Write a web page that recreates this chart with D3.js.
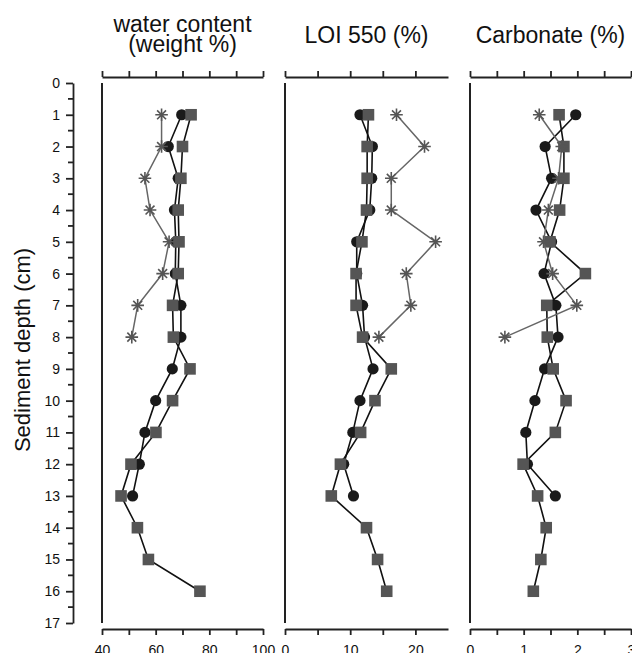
<!DOCTYPE html>
<html><head><meta charset="utf-8">
<script src="https://cdn.jsdelivr.net/npm/d3@7"></script>
<style>body{margin:0;background:#fff}svg{display:block}text{font-family:"Liberation Sans",Arial,sans-serif;fill:#111}</style>
</head><body><svg id="c" width="632" height="653"></svg>
<script>
// Sediment depths (cm)
const depths = [1,2,3,4,5,6,7,8,9,10,11,12,13,14,15,16];
const yTicks = [0,1,2,3,4,5,6,7,8,9,10,11,12,13,14,15,16,17];
const yMinorTicks = [0.5,1.5,2.5,3.5,4.5,5.5,6.5,7.5,8.5,9.5,10.5,11.5,12.5,13.5,14.5,15.5,16.5];

// Panel titles
const titles = [["water content","(weight %)"],["LOI 550 (%)"],["Carbonate (%)"]];

// Water content (weight %) – core A circles, core B squares, core C asterisks
const waterA = [69.7,64.7,68.4,67.0,67.5,67.3,69.4,69.4,66.2,60.0,56.0,53.9,51.4];
const waterB = [73.2,70.0,69.4,68.4,68.7,68.4,66.3,66.6,72.8,66.3,60.1,50.8,47.1,53.2,57.3,76.5];
const waterC = [62.2,62.2,56.0,57.9,65.0,62.6,53.3,51.1];

// LOI 550 (%)
const loiA = [11.5,13.4,13.3,13.0,11.0,11.0,11.9,12.2,13.5,11.5,10.4,9.0,10.5];
const loiB = [12.8,12.6,12.6,12.5,11.8,10.9,10.9,11.9,16.3,13.8,11.6,8.5,7.1,12.5,14.2,15.6];
const loiC = [17.1,21.4,16.3,16.3,23.1,18.6,19.3,14.4];

// Carbonate (%)
const carbA = [1.97,1.40,1.52,1.23,1.52,1.38,1.60,1.64,1.39,1.21,1.04,1.07,1.59];
const carbB = [1.66,1.75,1.75,1.67,1.49,2.15,1.43,1.44,1.55,1.79,1.59,0.99,1.26,1.42,1.32,1.18];
const carbC = [1.29,1.71,1.65,1.46,1.37,1.54,1.99,0.65];

// x-axis ticks
const waterTicks = [40,50,60,70,80,90,100], waterLabels = [40,60,80,100];
const loiTicks = [0,5,10,15,20], loiLabels = [0,10,20];
const carbTicks = [0,0.5,1,1.5,2,2.5,3], carbLabels = [0,1,2,3];

const panels = [
  {domain:[40,100], range:[102,263], ticks:waterTicks, labels:waterLabels, A:waterA, B:waterB, C:waterC},
  {domain:[0,25], range:[285,448], ticks:loiTicks, labels:loiLabels, A:loiA, B:loiB, C:loiC},
  {domain:[0,3], range:[470,631], ticks:carbTicks, labels:carbLabels, A:carbA, B:carbB, C:carbC}
];

const svg = d3.select("#c");
svg.append("rect").attr("width",632).attr("height",653).attr("fill","#fff");

const y = d3.scaleLinear().domain([0,17]).range([83,623]);
const axisColor = "#222";

// Y axis
const yAx = svg.append("g").attr("transform","translate(73,0)")
  .call(d3.axisLeft(y).tickValues(yTicks).tickSize(7).tickPadding(6).tickSizeOuter(0).tickFormat(d3.format("d")));
yAx.selectAll("text").style("font-size","14px");
yAx.selectAll("line, path").attr("stroke",axisColor).attr("stroke-width",1.8);
svg.append("g").attr("transform","translate(73,0)")
  .selectAll("line").data(yMinorTicks).join("line")
  .attr("x1",-5).attr("x2",0).attr("y1",d=>y(d)).attr("y2",d=>y(d))
  .attr("stroke",axisColor).attr("stroke-width",1.8);

svg.append("text").attr("transform","translate(30,350) rotate(-90)")
  .attr("text-anchor","middle").style("font-size","22px").text("Sediment depth (cm)");

function starPath(cx, cy, r){
  const p = d3.path();
  for (let k=0;k<4;k++){
    const a = k*Math.PI/4;
    p.moveTo(cx+r*Math.cos(a), cy+r*Math.sin(a));
    p.lineTo(cx-r*Math.cos(a), cy-r*Math.sin(a));
  }
  return p.toString();
}

panels.forEach((P, i) => {
  const x = d3.scaleLinear().domain(P.domain).range(P.range);
  const g = svg.append("g");

  // title
  const cx = (P.range[0]+P.range[1])/2;
  const tl = titles[i];
  if (tl.length === 2){
    g.append("text").attr("x",cx).attr("y",32).attr("text-anchor","middle").style("font-size","23px").text(tl[0]);
    g.append("text").attr("x",cx).attr("y",52).attr("text-anchor","middle").style("font-size","23px").text(tl[1]);
  } else {
    g.append("text").attr("x",cx).attr("y",43).attr("text-anchor","middle").style("font-size","23px").text(tl[0]);
  }

  // top axis
  const top = g.append("g").attr("transform","translate(0,77)")
    .call(d3.axisTop(x).tickValues(P.ticks).tickSize(6).tickSizeOuter(0).tickFormat(""));
  top.selectAll("line, path").attr("stroke",axisColor).attr("stroke-width",1.8);

  // bottom axis
  const bot = g.append("g").attr("transform","translate(0,629)")
    .call(d3.axisBottom(x).tickValues(P.ticks).tickSize(6).tickPadding(10).tickSizeOuter(0)
      .tickFormat(d => P.labels.includes(d) ? d3.format("d")(d) : ""));
  bot.selectAll("line, path").attr("stroke",axisColor).attr("stroke-width",1.8);
  bot.selectAll("text").style("font-size","14px");

  // panel left vertical line
  g.append("line").attr("x1",P.range[0]).attr("x2",P.range[0]).attr("y1",y(0)).attr("y2",y(17))
    .attr("stroke",axisColor).attr("stroke-width",2);

  const line = d3.line().x(d=>x(d[1])).y(d=>y(d[0]));
  const dataA = P.A.map((v,j)=>[depths[j],v]);
  const dataB = P.B.map((v,j)=>[depths[j],v]);
  const dataC = P.C.map((v,j)=>[depths[j],v]);

  // series A: circles
  g.append("path").attr("d",line(dataA)).attr("fill","none").attr("stroke","#111").attr("stroke-width",1.6);
  g.selectAll(".ca").data(dataA).join("circle").attr("cx",d=>x(d[1])).attr("cy",d=>y(d[0])).attr("r",5.6).attr("fill","#1a1a1a");

  // series B: squares
  g.append("path").attr("d",line(dataB)).attr("fill","none").attr("stroke","#111").attr("stroke-width",1.6);
  g.selectAll(".sb").data(dataB).join("rect").attr("x",d=>x(d[1])-5.8).attr("y",d=>y(d[0])-5.8)
    .attr("width",11.6).attr("height",11.6).attr("fill","#555");

  // series C: asterisks
  g.append("path").attr("d",line(dataC)).attr("fill","none").attr("stroke","#666").attr("stroke-width",1.5);
  g.selectAll(".sc").data(dataC).join("path").attr("d",d=>starPath(x(d[1]),y(d[0]),6.3))
    .attr("stroke","#555").attr("stroke-width",1.6).attr("fill","none");
});
</script></body></html>
